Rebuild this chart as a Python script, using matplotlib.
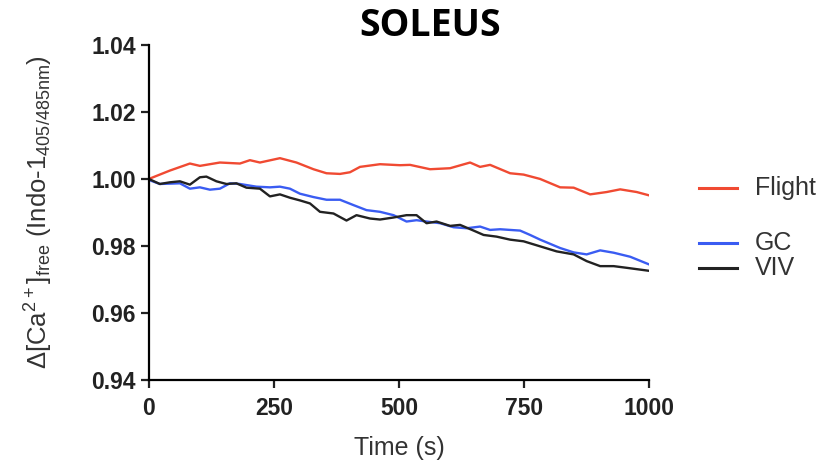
import matplotlib
matplotlib.use("Agg")
import matplotlib.pyplot as plt
from matplotlib.lines import Line2D

plt.rcParams['font.family'] = ['Liberation Sans', 'DejaVu Sans']
plt.rcParams['mathtext.default'] = 'regular'

flight_t = [0, 42, 82, 102, 142, 182, 202, 222, 262, 295, 329, 355, 382, 402, 422, 462, 502, 522, 562, 602, 642, 662, 682, 722, 749, 782, 822, 849, 882, 915, 942, 975, 1000]
flight_v = [1.0, 1.0025, 1.0046, 1.0039, 1.0049, 1.0046, 1.0056, 1.0049, 1.0062, 1.0049, 1.0029, 1.0017, 1.0015, 1.002, 1.0036, 1.0044, 1.0041, 1.0042, 1.0029, 1.0032, 1.0049, 1.0036, 1.0042, 1.0017, 1.0013, 1.0, 0.9975, 0.9974, 0.9954, 0.9961, 0.9969, 0.9961, 0.9951]

gc_t = [0, 22, 62, 82, 102, 122, 142, 162, 182, 215, 242, 262, 282, 302, 329, 355, 382, 409, 435, 462, 489, 515, 535, 555, 582, 609, 635, 662, 682, 702, 742, 762, 782, 822, 849, 875, 902, 929, 962, 1000]
gc_v = [0.9997, 0.9985, 0.9987, 0.9971, 0.9975, 0.9968, 0.9971, 0.9987, 0.9985, 0.9977, 0.9975, 0.9977, 0.9971, 0.9956, 0.9946, 0.9938, 0.9938, 0.9922, 0.9907, 0.9902, 0.9892, 0.9873, 0.9877, 0.9873, 0.9868, 0.9856, 0.9853, 0.9858, 0.9848, 0.985, 0.9846, 0.9833, 0.9819, 0.9794, 0.9781, 0.9775, 0.9787, 0.978, 0.9768, 0.9745]

viv_t = [0, 22, 42, 62, 82, 102, 115, 135, 155, 175, 195, 222, 242, 262, 282, 302, 322, 342, 369, 395, 415, 442, 462, 489, 515, 535, 555, 575, 602, 622, 649, 669, 695, 722, 749, 782, 815, 849, 875, 902, 929, 955, 1000]
viv_v = [1.0, 0.9985, 0.999, 0.9993, 0.9983, 1.0005, 1.0007, 0.9993, 0.9985, 0.9987, 0.9974, 0.9971, 0.9948, 0.9954, 0.9944, 0.9936, 0.9927, 0.9902, 0.9897, 0.9876, 0.9892, 0.9882, 0.9879, 0.9885, 0.9892, 0.9892, 0.9868, 0.9873, 0.986, 0.9863, 0.9846, 0.9833, 0.9828, 0.9819, 0.9814, 0.9799, 0.9784, 0.9775, 0.9755, 0.974, 0.974, 0.9735, 0.9726]

series_names = ['Flight', 'GC', 'VIV']
colors = ['#f04a32', '#3a5cf2', '#222222']

x_ticks = [0, 250, 500, 750, 1000]
y_ticks = [0.94, 0.96, 0.98, 1.00, 1.02, 1.04]

fig = plt.figure(figsize=(8.27, 4.67), dpi=100)
ax = fig.add_axes([0.180, 0.186, 0.605, 0.718])

for t, v, c in zip([flight_t, gc_t, viv_t], [flight_v, gc_v, viv_v], colors):
    ax.plot(t, v, color=c, lw=1.7)

ax.set_xlim(0, 1000)
ax.set_ylim(0.94, 1.04)
ax.set_xticks(x_ticks)
ax.set_yticks(y_ticks)
ax.set_xticklabels([str(x) for x in x_ticks], fontsize=16.5, fontweight='bold')
ax.set_yticklabels([f'{y:.2f}' for y in y_ticks], fontsize=16.5, fontweight='bold')
for s in ['top', 'right']:
    ax.spines[s].set_visible(False)
for s in ['left', 'bottom']:
    ax.spines[s].set_linewidth(1.6)
ax.tick_params(width=1.6, length=6, color='#222222', labelcolor='#222222')
ax.tick_params(axis='x', pad=6)
ax.set_xlabel('Time (s)', fontsize=18, color='#333333', labelpad=12)
ax.set_ylabel(r'$\Delta$[Ca$^{2+}$]$_{free}$ (Indo-1$_{405/485nm}$)', fontsize=18.5, color='#333333', labelpad=26)

fig.text(0.52, 0.944, 'SOLEUS', fontsize=27, fontweight='bold', ha='center', va='center', family=['Open Sans', 'DejaVu Sans'])

# legend
leg_y = [188, 243, 268]
for name, c, yp in zip(series_names, colors, leg_y):
    yf = 1 - yp / 467
    fig.add_artist(Line2D([699 / 827, 737 / 827], [yf, yf], color=c, lw=2.2))
    fig.text(755 / 827, yf, name, fontsize=18, va='center', ha='left', color='#333333')

fig.savefig('out.png', dpi=100)
